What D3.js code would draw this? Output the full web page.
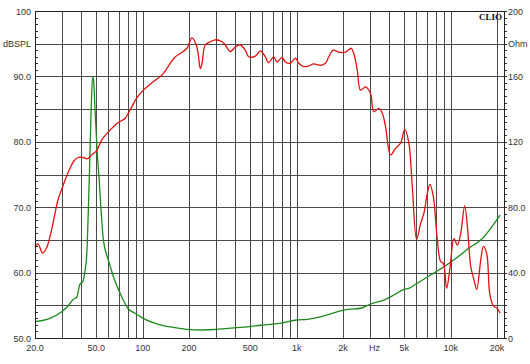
<!DOCTYPE html>
<html><head><meta charset="utf-8">
<script src="https://cdn.jsdelivr.net/npm/d3@7"></script>
<style>body{margin:0;background:#fff}svg{display:block}</style>
</head><body><svg id="c" width="530" height="364"></svg>
<script>
// ---- data ----
const splFreq = [20,20.9,22.4,23.8,24.7,25.8,27.0,28.2,30.0,31.8,33.8,35.9,38.1,41.0,43.8,46.8,50.4,54.3,61.5,68.0,77.0,83.0,91.7,101,112,130,137,151,163,175,194,209,225,237,243,255,275,296,328,344,371,400,431,464,488,539,581,626,658,709,746,804,845,911,982,1031,1112,1198,1291,1428,1538,1617,1727,1878,2076,2260,2350,2474,2598,2800,3018,3172,3418,3596,3778,4072,4388,4730,5044,5354,5636,6012,6382,6706,7056,7336,7718,8194,8610,8966,9420,9898,10510,11058,11620,12338,12956,13498,14176,14762,15676,16320,17150,17938,18956,20124,20920];
const splDb = [63.9,64.4,63.0,63.8,65.0,66.8,69.1,71.1,72.9,74.5,76.0,77.1,77.6,77.6,77.4,78.0,78.7,80.3,81.8,82.8,83.6,84.9,86.7,87.9,88.8,90.0,90.5,92.0,93.0,93.5,94.3,95.9,94.5,91.2,92.0,94.8,95.3,95.6,95.3,94.8,93.8,94.5,94.8,94.0,93.0,93.1,93.9,93.0,92.1,93.0,92.2,92.9,92.2,92.0,92.8,92.0,91.5,91.6,91.9,91.7,92.0,93.0,94.0,93.7,93.7,94.3,93.5,91.0,87.9,88.4,87.4,84.6,85.1,84.4,82.3,78.0,79.0,79.8,81.9,79.8,73.1,65.1,67.5,69.1,72.1,73.5,71.6,65.0,61.7,61.4,57.6,60.7,65.2,64.2,66.0,70.2,66.0,60.9,58.9,57.4,61.9,64.0,62.9,56.8,54.9,54.5,53.8];
const impFreq = [20,25.0,29.8,32.8,35.5,37.3,39.2,40.9,42.3,43.4,44.2,45.2,46.3,47.3,48.0,49.1,50.6,52.2,53.7,55.6,59.9,64.6,71.4,80.1,89.4,101,130,175,194,249,304,410,581,824,997,1170,1578,2024,2238,2598,3018,3684,4278,4970,5354,6074,7414,9046,11058,13498,15676,18208,20920];
const impOhm = [10.0,12.0,16.1,19.6,23.7,24.9,33.0,34.4,41.6,51.8,72.2,102.8,139.4,159.6,157.8,139.4,115,96.6,78.3,59.9,47.7,37.5,27.3,18.2,15.1,12.0,8.0,5.9,5.3,4.9,5.3,6.3,7.8,9.4,11.0,11.4,14.1,17.1,17.6,18.2,20.8,23.2,26.3,29.8,30.4,33.5,38.5,43.6,49.4,55.8,59.9,67.1,75.2];
const xGridFreqs = [20,30,40,50,60,70,80,90,100,200,300,400,500,600,700,800,900,1000,2000,3000,4000,5000,6000,7000,8000,9000,10000,20000];
const xTickValues = [20,50,100,200,500,1000,2000,5000,10000,20000];
const xTickLabels = ["20.0","50.0","100","200","500","1k","2k","5k","10k","20k"];
const xUnitLabel = "Hz";
const xUnitFreq = 3200;
const leftGrid = [50,55,60,65,70,75,80,85,90,95,100];
const leftTickValues = [100,95,90,80,70,60,50];
const leftTickLabels = ["100","dBSPL","90.0","80.0","70.0","60.0","50.0"];
const rightTickValues = [200,180,160,120,80,40,0];
const rightTickLabels = ["200","Ohm","160","120","80.0","40.0","0"];

// ---- layout ----
const L = 35, R = 504, T = 11, B = 338;
const svg = d3.select("#c");
svg.append("rect").attr("width",530).attr("height",364).attr("fill","#fff");

const x = d3.scaleLog().domain([20, 22200]).range([L, R]);
const yL = d3.scaleLinear().domain([50, 100]).range([B, T]);
const yR = d3.scaleLinear().domain([0, 200]).range([B, T]);

const grid = svg.append("g").attr("stroke","#4a4a4a").attr("stroke-width",1).attr("shape-rendering","crispEdges");
grid.selectAll("line.v").data(xGridFreqs).join("line")
  .attr("x1", d => Math.round(x(d))+0.5).attr("x2", d => Math.round(x(d))+0.5)
  .attr("y1", T).attr("y2", B);
grid.selectAll("line.h").data(leftGrid).join("line")
  .attr("y1", d => Math.round(yL(d))+0.5).attr("y2", d => Math.round(yL(d))+0.5)
  .attr("x1", L).attr("x2", R);

// minor ticks
const minorL = d3.range(50, 100.01, 1);
svg.append("g").attr("stroke","#333").attr("shape-rendering","crispEdges")
  .selectAll("line").data(minorL).join("line")
  .attr("x1", L).attr("x2", L+3)
  .attr("y1", d => Math.round(yL(d))+0.5).attr("y2", d => Math.round(yL(d))+0.5);
const minorR = d3.range(0, 200.01, 4);
svg.append("g").attr("stroke","#333").attr("shape-rendering","crispEdges")
  .selectAll("line").data(minorR).join("line")
  .attr("x1", R).attr("x2", R+3)
  .attr("y1", d => Math.round(yR(d))+0.5).attr("y2", d => Math.round(yR(d))+0.5);

// curves
const lineSpl = d3.line().x((d,i) => x(splFreq[i])).y(d => yL(d)).curve(d3.curveCatmullRom.alpha(0.5));
const lineImp = d3.line().x((d,i) => x(impFreq[i])).y(d => yR(d)).curve(d3.curveMonotoneX);
svg.append("path").attr("d", lineImp(impOhm)).attr("fill","none").attr("stroke","#1c8a1c").attr("stroke-width",1.3);
svg.append("path").attr("d", lineSpl(splDb)).attr("fill","none").attr("stroke","#e31010").attr("stroke-width",1.3);

// border
svg.append("rect").attr("x",L+0.5).attr("y",T+0.5).attr("width",R-L).attr("height",B-T)
  .attr("fill","none").attr("stroke","#222").attr("stroke-width",1).attr("shape-rendering","crispEdges");

// labels
const font = "Liberation Sans, Arial, sans-serif";
const txt = svg.append("g").attr("font-family", font).attr("font-size", 9).attr("fill","#333");
txt.selectAll("text.l").data(leftTickValues).join("text")
  .attr("x", L-4).attr("y", d => yL(d)+3.5).attr("text-anchor","end")
  .text((d,i) => leftTickLabels[i]);
txt.selectAll("text.r").data(rightTickValues).join("text")
  .attr("class","r").attr("x", R+4).attr("y", d => yR(d)+3.5).attr("text-anchor","start")
  .text((d,i) => rightTickLabels[i]);
txt.selectAll("text.b").data(xTickValues).join("text")
  .attr("class","b").attr("x", d => x(d)).attr("y", B+13).attr("text-anchor","middle")
  .text((d,i) => xTickLabels[i]);
txt.append("text").attr("x", x(xUnitFreq)).attr("y", B+13).attr("text-anchor","middle").text(xUnitLabel);

svg.append("text").attr("x", R-2).attr("y", T+9).attr("text-anchor","end")
  .attr("font-family","Liberation Serif, Times New Roman, serif").attr("font-weight","bold")
  .attr("font-size",9).attr("fill","#111").text("CLIO");
</script>
</body></html>
